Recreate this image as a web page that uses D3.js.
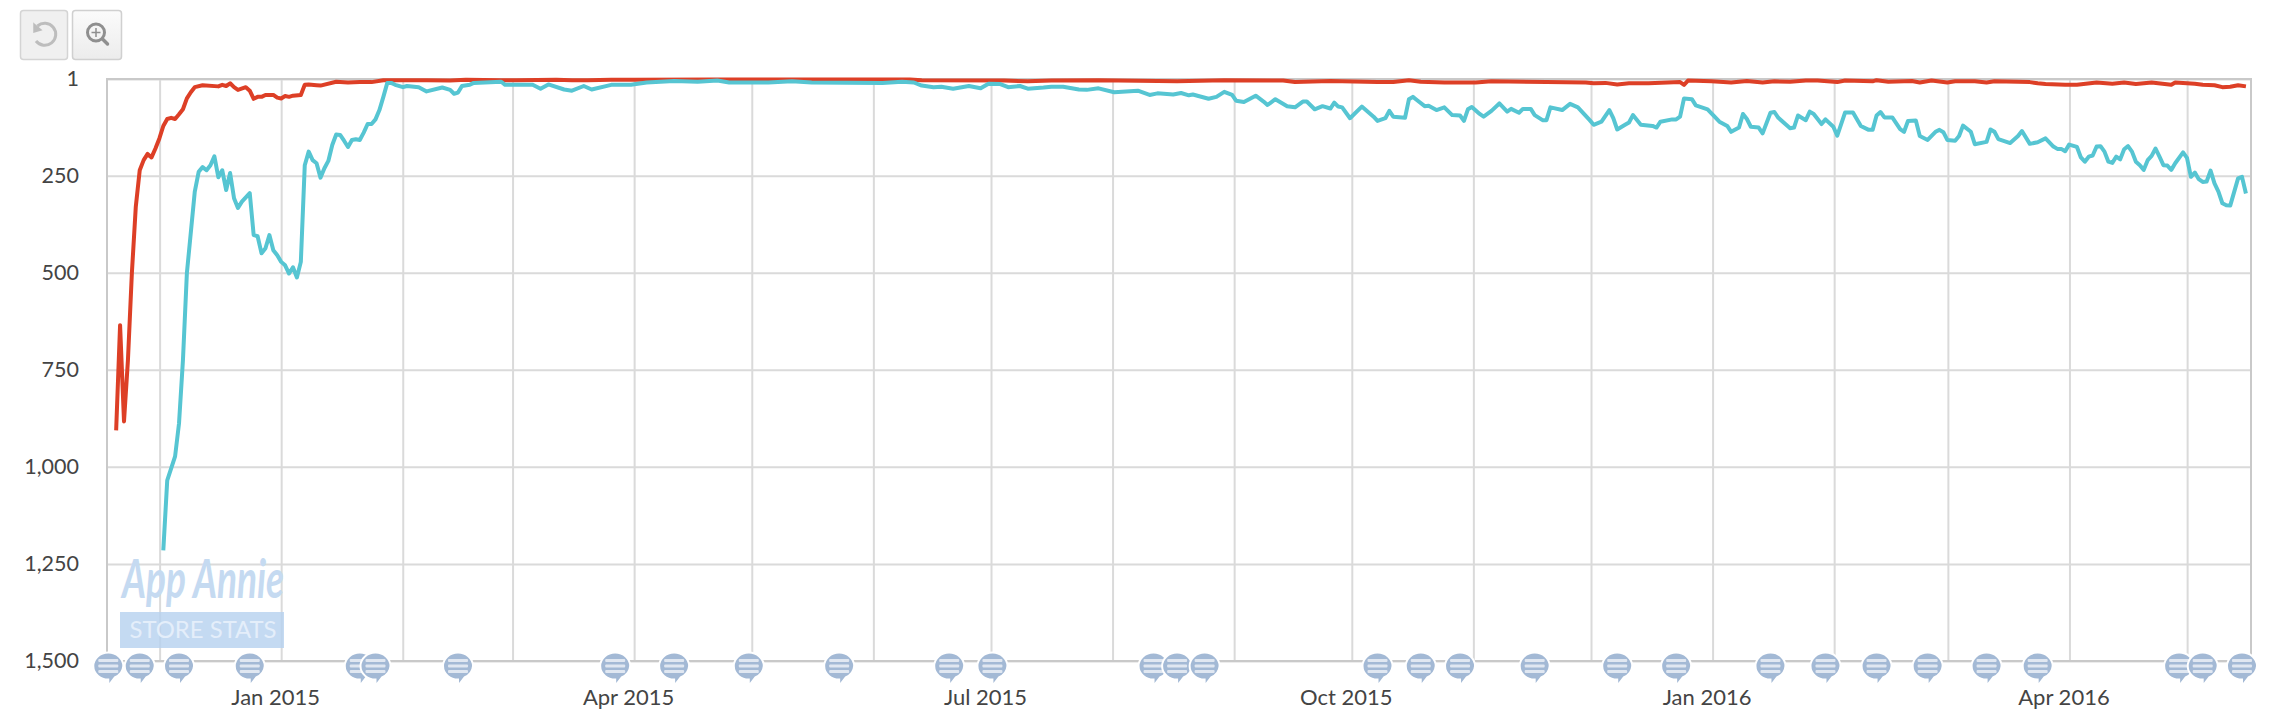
<!DOCTYPE html>
<html>
<head>
<meta charset="utf-8">
<script src="https://cdn.jsdelivr.net/npm/d3@7"></script>
<style>
  body { margin: 0; background: #fff; }
  svg { display: block; }
  text { font-family: Lato, "Open Sans", sans-serif; fill: #444; }
</style>
</head>
<body>
<svg id="chart" width="2280" height="714"></svg>
<script>
// [days since 1 Jan 2015, rank]
const redRanks = [
  [-42,906],[-41,635],[-40,883],[-39,725],[-38,501],[-37,330],[-36,236],[-35,210],[-34,194],[-33,203],
  [-32,180],[-31,154],[-30,122],[-29,104],[-28,101],[-27,104],[-26,92],[-25,79],[-24,51],[-23,35],
  [-22,22],[-20,17],[-16,20],[-15,16],[-14,19],[-13,12],[-12,22],[-11,29],[-9,22],[-8,31],
  [-7,52],[-6,47],[-5,47],[-4,42],[-2,42],[-1,49],[0,51],[1,45],[2,47],[3,44],
  [5,42],[6,16],[7,15],[9,17],[10,18],[14,8],[17,10],[20,9],[23,9],[26,4],
  [27,4],[37,4],[43,5],[47,3],[56,4],[60,4],[70,3],[74,4],[78,4],[84,3],
  [90,3],[110,2],[130,2],[160,2],[163,4],[184,5],[190,7],[196,5],[208,4],[228,7],
  [240,4],[255,5],[258,9],[267,6],[279,9],[283,9],[287,4],[290,8],[296,10],[304,10],
  [308,7],[322,9],[332,10],[334,12],[337,11],[340,15],[343,12],[348,12],[356,9],[357,16],
  [358,5],[364,7],[369,10],[373,6],[377,10],[380,7],[384,8],[388,5],[391,5],[396,9],
  [398,5],[405,7],[406,4],[409,8],[415,6],[417,10],[420,5],[424,10],[426,7],[431,7],
  [434,10],[436,7],[445,9],[447,12],[449,14],[454,16],[457,16],[462,10],[466,13],[469,10],
  [472,14],[476,10],[481,16],[482,10],[487,13],[489,16],[492,17],[494,22],[496,21],[498,17],[500,20]
];
const tealRanks = [
  [-30,1215],[-29,1035],[-27,973],[-26,888],[-25,725],[-24,501],[-22,292],[-21,240],[-20,228],[-19,236],
  [-18,223],[-17,200],[-16,254],[-15,236],[-14,287],[-13,243],[-12,308],[-11,333],[-10,317],[-8,295],
  [-7,403],[-6,406],[-5,450],[-4,437],[-3,403],[-2,442],[-1,455],[0,472],[1,481],[2,502],
  [3,486],[4,512],[5,472],[6,223],[7,188],[8,210],[9,218],[10,255],[11,231],[12,212],
  [13,171],[14,144],[15,145],[16,160],[17,176],[18,158],[19,156],[20,158],[21,139],[22,117],
  [23,117],[24,105],[25,81],[26,47],[27,11],[28,11],[29,16],[31,22],[32,19],[35,22],
  [37,33],[41,23],[43,29],[44,39],[45,36],[46,19],[48,16],[49,11],[56,8],[57,16],
  [64,16],[66,26],[68,15],[72,28],[74,31],[77,19],[79,28],[84,16],[89,16],[93,10],
  [100,6],[106,8],[111,5],[114,10],[124,10],[130,7],[135,10],[153,11],[158,8],[161,10],
  [163,18],[166,22],[168,21],[171,26],[175,19],[178,25],[180,13],[183,14],[185,22],[188,19],
  [190,26],[194,23],[196,21],[199,21],[203,28],[205,29],[208,25],[212,35],[218,31],[221,42],
  [223,38],[227,41],[229,37],[231,43],[232,41],[236,52],[238,47],[240,34],[242,42],[243,57],
  [245,60],[248,44],[250,59],[251,68],[253,53],[256,71],[258,74],[260,59],[261,59],[263,79],
  [265,71],[267,77],[268,62],[269,72],[270,74],[272,102],[275,72],[278,98],[279,109],[281,102],
  [282,83],[283,98],[286,101],[287,53],[288,47],[289,55],[291,71],[292,70],[294,81],[296,74],
  [298,94],[300,95],[301,109],[302,79],[303,73],[305,91],[306,98],[308,83],[310,64],[312,85],
  [313,78],[315,88],[316,78],[318,78],[319,94],[321,107],[322,107],[323,74],[326,81],[328,65],
  [330,74],[333,107],[334,119],[336,111],[338,81],[339,102],[340,131],[342,119],[343,113],[344,94],
  [346,119],[349,122],[350,126],[351,111],[354,105],[355,105],[356,98],[357,51],[359,53],[360,69],
  [363,79],[366,111],[368,122],[369,137],[371,126],[372,91],[373,104],[374,124],[376,126],[377,141],
  [379,88],[380,86],[381,101],[384,128],[385,126],[386,95],[388,107],[389,85],[390,91],[392,117],
  [393,105],[395,124],[396,147],[398,87],[400,87],[402,122],[404,132],[405,132],[406,95],[407,86],
  [408,100],[410,100],[412,130],[413,137],[414,109],[416,108],[417,148],[419,158],[421,137],[422,132],
  [423,138],[424,158],[426,160],[427,148],[428,121],[430,137],[431,169],[434,163],[435,131],[436,137],
  [437,156],[440,166],[442,148],[443,135],[445,168],[447,164],[449,154],[451,175],[452,181],[453,181],
  [454,187],[455,170],[457,176],[458,203],[459,214],[460,201],[461,198],[462,175],[463,174],[464,188],
  [465,214],[466,217],[467,201],[468,208],[469,182],[470,174],[471,188],[472,214],[473,223],[474,235],
  [475,210],[476,199],[477,180],[478,201],[479,223],[480,224],[481,235],[482,218],[484,190],[485,204],
  [486,253],[487,242],[488,259],[489,266],[490,265],[491,237],[492,270],[493,291],[494,321],[495,326],
  [496,327],[498,257],[499,253],[500,296]
];
// note bubbles under the chart, days since 1 Jan 2015
const noteDays = [-44,-36,-26,-8,20,24,45,85,100,119,142,170,181,222,228,235,279,290,300,319,340,355,379,393,406,419,434,447,483,489,499];

const rankTicks = [1,250,500,750,1000,1250,1500];
const labelledMonths = ["Jan 2015","Apr 2015","Jul 2015","Oct 2015","Jan 2016","Apr 2016"];

const svg = d3.select("#chart");
const jan1 = Date.UTC(2015,0,1);
// day values were read at 3.93px/day, the months actually run about 3.922
const toDate = d => new Date(jan1 + d * 86400000 * 1.002);
const fmtMonth = d3.utcFormat("%b %Y");

const plotL = 107, plotR = 2251, plotT = 79, plotB = 661;

let x = d3.scaleUtc()
  .domain([new Date(Date.UTC(2014,10,17,14)), new Date(Date.UTC(2016,4,17,7))])
  .range([plotL,plotR]);
let y = d3.scaleLinear().domain([1,1500]).range([plotT,plotB]);

// toolbar
const btnUndo = svg.append("g");
btnUndo.append("rect").attr("x",20.5).attr("y",10.5).attr("width",47).attr("height",49).attr("rx",3)
  .attr("fill","#f0f0f0").attr("stroke","#d4d4d4").attr("stroke-width",1.5);
btnUndo.append("path").attr("d","M37.5 26 A11 11 0 1 1 36 41")
  .attr("fill","none").attr("stroke","#bdbdbd").attr("stroke-width",3);
btnUndo.append("path").attr("d","M34 24 L41 30 L34 32 Z").attr("fill","#bdbdbd").attr("stroke","#bdbdbd").attr("stroke-width",1.5);

const btnZoom = svg.append("g");
const grad = svg.append("defs").append("linearGradient").attr("id","btn").attr("x2",0).attr("y2",1);
grad.append("stop").attr("offset",0).attr("stop-color","#fbfbfb");
grad.append("stop").attr("offset",1).attr("stop-color","#ececec");
btnZoom.append("rect").attr("x",72.5).attr("y",10.5).attr("width",49).attr("height",49).attr("rx",3)
  .attr("fill","url(#btn)").attr("stroke","#d0d0d0").attr("stroke-width",1.5);
btnZoom.append("circle").attr("cx",96).attr("cy",32.5).attr("r",8.5)
  .attr("fill","none").attr("stroke","#8f8f8f").attr("stroke-width",3);
btnZoom.append("path").attr("d","M102.5 39 L107.5 44").attr("stroke","#8f8f8f").attr("stroke-width",3.5).attr("stroke-linecap","round");
btnZoom.append("path").attr("d","M96 28 V37 M91.5 32.5 H100.5").attr("stroke","#8f8f8f").attr("stroke-width",1.5);

// grid and axes
const xAxis = d3.axisBottom(x)
  .ticks(d3.utcMonth.every(1))
  .tickSize(-(plotB-plotT))
  .tickFormat(d => labelledMonths.includes(fmtMonth(d)) ? fmtMonth(d) : "");

const gx = svg.append("g")
  .attr("class","axis")
  .attr("transform","translate(0,"+plotB+")")
  .call(xAxis);
gx.select(".domain").remove();
gx.selectAll("line").attr("stroke","#dadada").attr("stroke-width",2);
gx.selectAll("text").attr("y",44).attr("dy",0).attr("dx",-6).style("font-size","22px");

const yAxis = d3.axisLeft(y)
  .tickValues(rankTicks)
  .tickSize(-(plotR-plotL))
  .tickPadding(28)
  .tickFormat(d3.format(","));

const gy = svg.append("g")
  .attr("class","axis")
  .attr("transform","translate("+plotL+",0)")
  .call(yAxis);
gy.select(".domain").remove();
gy.selectAll("line").attr("stroke","#dadada").attr("stroke-width",2);
gy.selectAll("text").style("font-size","21.5px");

svg.append("path")
  .attr("d","M"+plotL+" "+plotB+" V"+plotT+" H"+plotR+" V"+plotB+" H"+plotL)
  .attr("fill","none").attr("stroke","#c9c9c9").attr("stroke-width",2);

// watermark
svg.append("text").attr("x",122).attr("y",598)
  .attr("textLength",162).attr("lengthAdjust","spacingAndGlyphs")
  .style("font-size","54px").style("font-style","italic").style("font-weight","bold").style("fill","#c5daf1")
  .text("App Annie");
svg.append("rect").attr("x",120).attr("y",612).attr("width",164).attr("height",36)
  .attr("fill","#b5d1ef").attr("opacity",0.8);
svg.append("text").attr("x",203).attr("y",638).attr("text-anchor","middle")
  .attr("textLength",147).attr("lengthAdjust","spacingAndGlyphs")
  .style("font-size","23px").style("fill","#e4eefa")
  .text("STORE STATS");

// rank lines
let line = d3.line()
  .x(d => x(toDate(d[0])))
  .y(d => y(d[1]));

svg.append("path").datum(redRanks)
  .attr("d",line).attr("fill","none").attr("stroke","#dd3f26")
  .attr("stroke-width",4).attr("stroke-linejoin","round");
svg.append("path").datum(tealRanks)
  .attr("d",line).attr("fill","none").attr("stroke","#56c5d2")
  .attr("stroke-width",4).attr("stroke-linejoin","round");

// note bubbles
const bubblePath = "M-14 0 A14 12.5 0 0 1 14 0 A14 12.5 0 0 1 6 10.5 L1 17 L1 12.5 A14 12.5 0 0 1 -14 0 Z";
const notes = svg.append("g").selectAll("g")
  .data(noteDays)
  .enter()
  .append("g")
  .attr("transform",d => "translate("+x(toDate(d))+",666)");

notes.append("path").attr("d",bubblePath)
  .attr("fill","#a3b9d5").attr("stroke","#fff").attr("stroke-width",4).attr("paint-order","stroke");
notes.selectAll("rect")
  .data([-7,-1.5,4])
  .enter()
  .append("rect")
  .attr("x",-10).attr("y",d => d).attr("width",20).attr("height",3)
  .attr("rx",1).attr("fill","#e0e7f1");
</script>
</body>
</html>
